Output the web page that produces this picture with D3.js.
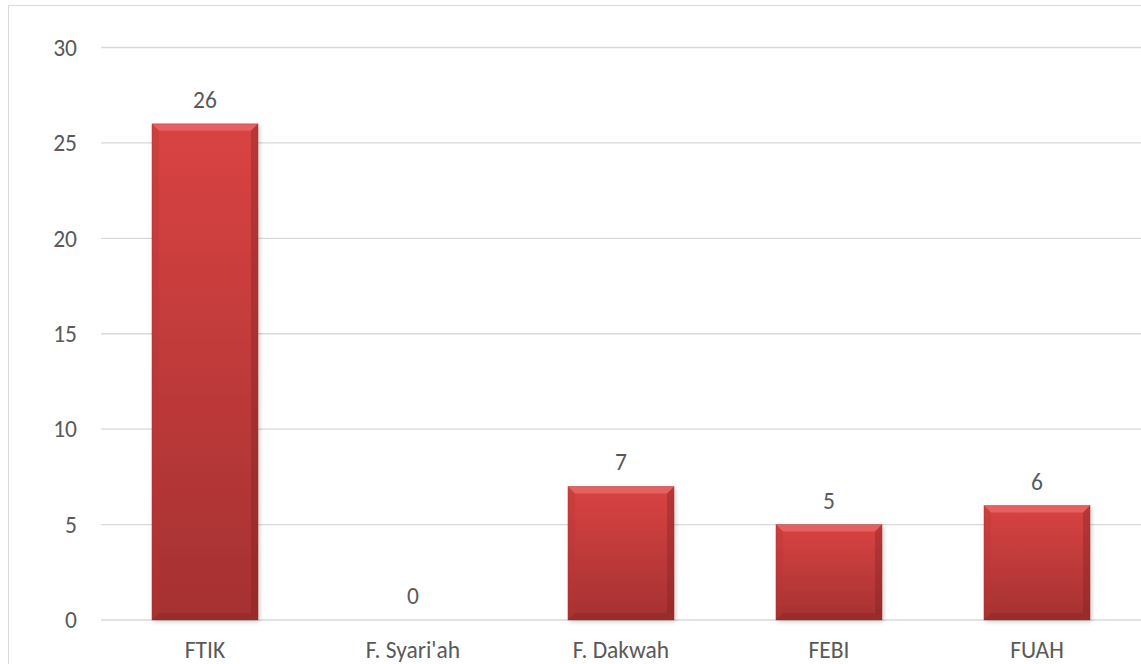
<!DOCTYPE html>
<html>
<head>
<meta charset="utf-8">
<script src="https://cdn.jsdelivr.net/npm/d3@7"></script>
<style>
  body { margin: 0; background: #fff; }
  text { font-family: Carlito, "Noto Sans", "Open Sans", sans-serif; fill: #595959; }
</style>
</head>
<body>
<div id="chart"></div>
<script>
var categories = ["FTIK", "F. Syari'ah", "F. Dakwah", "FEBI", "FUAH"];
var values = [26, 0, 7, 5, 6];
var yTicks = [0, 5, 10, 15, 20, 25, 30];

var W = 1141, H = 664;
var margin = {top: 47.5, right: 0, bottom: 44, left: 101};
var fs = "23.5px";

var svg = d3.select("#chart").append("svg").attr("width", W).attr("height", H);

// outer frame (right and bottom run off the picture)
svg.append("rect").attr("x", 8.5).attr("y", 5.5).attr("width", W).attr("height", H)
  .attr("fill", "none").attr("stroke", "#d9d9d9").attr("stroke-width", 1);

var defs = svg.append("defs");
var grad = defs.append("linearGradient").attr("id", "barFill").attr("x1", 0).attr("y1", 0).attr("x2", 0).attr("y2", 1);
grad.append("stop").attr("offset", "0%").attr("stop-color", "#d94343");
grad.append("stop").attr("offset", "100%").attr("stop-color", "#a53131");

var shadow = defs.append("filter").attr("id", "shadow").attr("x", "-10%").attr("y", "-10%").attr("width", "125%").attr("height", "125%");
shadow.append("feDropShadow").attr("dx", 1.5).attr("dy", 1.5).attr("stdDeviation", 2)
  .attr("flood-color", "#000").attr("flood-opacity", 0.22);

var x = d3.scaleBand().domain(categories).range([margin.left, W - margin.right]).paddingInner(0.49).paddingOuter(0.245);
var y = d3.scaleLinear().domain([0, 30]).range([H - margin.bottom, margin.top]);

// gridlines
svg.append("g").selectAll("line").data(yTicks).enter().append("line")
  .attr("x1", margin.left).attr("x2", W - margin.right)
  .attr("y1", function(d) { return y(d); }).attr("y2", function(d) { return y(d); })
  .attr("stroke", "#d9d9d9").attr("stroke-width", 1.3);

// y labels
svg.append("g").selectAll("text").data(yTicks).enter().append("text")
  .attr("x", 77).attr("y", function(d) { return y(d); }).attr("dy", "0.35em")
  .attr("text-anchor", "end").style("font-size", fs).text(function(d) { return d; });

// bars
var bev = 7;
values.forEach(function(v, i) {
  if (v <= 0) return;
  var x0 = x(categories[i]), x1 = x0 + x.bandwidth(), y0 = y(v), y1 = y(0);
  var g = svg.append("g");
  g.append("rect").attr("x", x0).attr("y", y0).attr("width", x1 - x0).attr("height", y1 - y0)
    .attr("fill", "url(#barFill)").attr("filter", "url(#shadow)");
  // top bevel (lighter)
  g.append("polygon").attr("points", [[x0, y0], [x1, y0], [x1 - bev, y0 + bev], [x0 + bev, y0 + bev]].join(" "))
    .attr("fill", "#f07a7a").attr("opacity", 0.55);
  // left bevel
  g.append("polygon").attr("points", [[x0, y0], [x0 + bev, y0 + bev], [x0 + bev, y1 - bev], [x0, y1]].join(" "))
    .attr("fill", "#b73434").attr("opacity", 0.3);
  // right bevel (darker)
  g.append("polygon").attr("points", [[x1, y0], [x1, y1], [x1 - bev, y1 - bev], [x1 - bev, y0 + bev]].join(" "))
    .attr("fill", "#7e2020").attr("opacity", 0.35);
  // bottom bevel
  g.append("polygon").attr("points", [[x0, y1], [x1, y1], [x1 - bev, y1 - bev], [x0 + bev, y1 - bev]].join(" "))
    .attr("fill", "#7e2020").attr("opacity", 0.3);
  g.append("rect").attr("x", x0).attr("y", y0).attr("width", x1 - x0).attr("height", y1 - y0)
    .attr("fill", "none").attr("stroke", "#8a2a2a").attr("stroke-opacity", 0.35).attr("stroke-width", 0.8);
});

// value labels
svg.append("g").selectAll("text").data(values).enter().append("text")
  .attr("x", function(d, i) { return x(categories[i]) + x.bandwidth() / 2; })
  .attr("y", function(d) { return y(d) - 16; })
  .attr("text-anchor", "middle").style("font-size", fs).text(function(d) { return d; });

// category labels
svg.append("g").selectAll("text").data(categories).enter().append("text")
  .attr("x", function(d) { return x(d) + x.bandwidth() / 2; })
  .attr("y", y(0) + 38)
  .attr("text-anchor", "middle").style("font-size", fs).text(function(d) { return d; });
</script>
</body>
</html>
